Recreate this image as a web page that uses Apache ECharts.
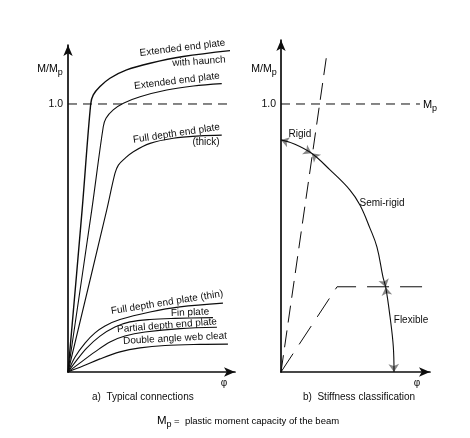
<!DOCTYPE html>
<html><head><meta charset="utf-8">
<script src="https://cdn.jsdelivr.net/npm/echarts@6/dist/echarts.min.js"></script>
<style>html,body{margin:0;padding:0;background:#fff}#c{width:470px;height:438px}</style>
</head><body><div id="c"></div>
<script>
// ---- data (phi in arbitrary rotation units, M/Mp) ----
const haunch     = [[0,0],[0.82,0.604],[1.32,1.0],[1.47,1.034],[1.86,1.065],[2.44,1.096],[3.41,1.127],[4.77,1.152],[6.70,1.177],[9.42,1.199]];
const extended   = [[0,0],[1.38,0.604],[2.05,0.915],[2.21,0.947],[2.63,0.978],[3.22,1.003],[4.19,1.027],[5.74,1.052],[7.29,1.067],[8.94,1.076]];
const fullThick  = [[0,0],[2.25,0.604],[2.73,0.741],[2.93,0.772],[3.31,0.797],[3.80,0.822],[4.77,0.853],[6.12,0.872],[7.67,0.881],[8.94,0.884]];
const fullThin   = [[0,0],[0.41,0.056],[0.99,0.108],[1.57,0.146],[2.15,0.172],[3.02,0.196],[4.77,0.224],[6.51,0.243],[9.01,0.257]];
const finPlate   = [[0,0],[0.52,0.045],[1.10,0.090],[1.86,0.134],[2.73,0.168],[3.60,0.187],[4.77,0.196],[6.22,0.200],[8.43,0.203]];
const partial    = [[0,0],[0.70,0.034],[1.57,0.075],[2.44,0.112],[3.31,0.134],[4.48,0.149],[6.51,0.162],[8.66,0.167]];
const cleat      = [[0,0],[0.87,0.022],[1.86,0.049],[3.02,0.075],[4.19,0.090],[5.64,0.099],[7.67,0.103],[9.30,0.104]];
const mpLineL    = [[0,1],[9.42,1]];

const mpLineR    = [[0,1],[8.08,1]];
const rigidLimit = [[0,0],[2.657,1.183]];
const flexLimit  = [[0,0],[3.26,0.318],[8.256,0.318]];
const arc        = [[0,0.866],[0.81,0.85],[1.78,0.816],[2.85,0.754],[4.01,0.679],[4.59,0.623],[5.17,0.537],[5.58,0.466],[5.93,0.354],[6.09,0.316],[6.34,0.206],[6.53,0.094],[6.57,0]];
const zoneBreaks = [0, 2, 9, 12]; // indices in arc: Rigid | Semi-rigid | Flexible
const yTickLabels = {1: '1.0'};

// ---- build ----
const FONT = "'Liberation Sans', Arial, Helvetica, sans-serif";
const INK = '#0d0d0d';
const chart = echarts.init(document.getElementById('c'), null, {renderer: 'canvas'});

function axisX(gi, max) {
  return {type:'value', gridIndex: gi, min: 0, max: max,
    axisLine:{show:true, onZero:false, symbol:['none','arrow'], symbolSize:[7,11], lineStyle:{color:INK, width:1.7}},
    axisTick:{show:false}, axisLabel:{show:false}, splitLine:{show:false}};
}
function axisY(gi, max) {
  return {type:'value', gridIndex: gi, min: 0, max: max, interval: 1,
    axisLine:{show:true, onZero:false, symbol:['none','arrow'], symbolSize:[7,11], lineStyle:{color:INK, width:1.7}},
    axisTick:{show:false}, splitLine:{show:false},
    axisLabel:{show:true, margin:5, fontFamily:FONT, fontSize:10.5, color:INK,
      formatter: v => yTickLabels[v] || ''}};
}
function curve(data, gi, width, dash, smooth) {
  return {type:'line', xAxisIndex:gi, yAxisIndex:gi, data:data, showSymbol:false, symbol:'none',
    smooth: smooth || 0, silent:true, animation:false,
    lineStyle:{color:INK, width:width, type: dash || 'solid'}};
}
const arrowItems = [];
for (let z = 0; z < zoneBreaks.length - 1; z++) {
  const s = zoneBreaks[z], e = zoneBreaks[z+1];
  arrowItems.push({coords:[arc[s+1], arc[s]]});
  arrowItems.push({coords:[arc[e-1], arc[e]]});
}

const sub = (main, s, f1, f2) => ({
  text: '{a|' + main + '}{s|' + s + '}',
  rich: {a:{fontFamily:FONT, fontSize:f1, color:INK},
         s:{fontFamily:FONT, fontSize:f2, color:INK, padding:[8,0,0,0]}}
});
function txt(x, y, text, deg, size, extra) {
  return Object.assign({type:'text', x:x, y:y, rotation:(deg||0)*Math.PI/180, silent:true,
    style:{text:text, fontFamily:FONT, fontSize:size||10, fill:INK, align:'center', verticalAlign:'middle'}}, extra||{});
}

chart.setOption({
  animation:false,
  backgroundColor:'#fff',
  grid:[{left:68, top:45, width:167, height:327},
        {left:281, top:40, width:149, height:332}],
  xAxis:[axisX(0, 9.71), axisX(1, 8.663)],
  yAxis:[axisY(0, 1.2201), axisY(1, 1.2388)],
  series:[
    curve(mpLineL, 0, 1, [9,6]),
    curve(haunch, 0, 1.4, null, 0.35),
    curve(extended, 0, 1.1, null, 0.35),
    curve(fullThick, 0, 1.1, null, 0.35),
    curve(fullThin, 0, 1.1, null, 0.35),
    curve(finPlate, 0, 1.1, null, 0.35),
    curve(partial, 0, 1.1, null, 0.35),
    curve(cleat, 0, 1.1, null, 0.35),
    curve(mpLineR, 1, 1, [9,6]),
    curve(rigidLimit, 1, 1, [17,8]),
    curve(flexLimit, 1, 1, [22,11]),
    curve(arc, 1, 1.1, null, 0.4),
    {type:'lines', coordinateSystem:'cartesian2d', xAxisIndex:1, yAxisIndex:1, silent:true,
     symbol:['none','arrow'], symbolSize:[6,8],
     lineStyle:{color:INK, width:0}, data: arrowItems}
  ],
  graphic:[
    {type:'text', x:50, y:69, silent:true, style:Object.assign({align:'center', verticalAlign:'middle'}, sub('M/M','p',10.5,9))},
    {type:'text', x:264, y:69, silent:true, style:Object.assign({align:'center', verticalAlign:'middle'}, sub('M/M','p',10.5,9))},
    {type:'text', x:430, y:105, silent:true, style:Object.assign({align:'center', verticalAlign:'middle'}, sub('M','p',11,9))},
    txt(182.5, 48, 'Extended end plate', 7, 10),
    txt(199, 61.5, 'with haunch', 4, 10),
    txt(177, 81, 'Extended end plate', 7, 10),
    txt(176.5, 133.5, 'Full depth end plate', 8.5, 10),
    txt(206, 142, '(thick)', 0, 10),
    txt(167, 302.5, 'Full depth end plate (thin)', 9, 10),
    txt(190, 312.5, 'Fin plate', 2, 10),
    txt(167, 325.5, 'Partial depth end plate', 4.5, 10),
    txt(175, 338.5, 'Double angle web cleat', 3, 10),
    txt(300, 134, 'Rigid', 0, 10),
    txt(382, 203, 'Semi-rigid', 0, 10),
    txt(411, 320, 'Flexible', 0, 10),
    txt(224, 383, 'φ', 0, 10),
    txt(417, 383, 'φ', 0, 10),
    {type:'text', x:92, y:397, silent:true, style:{text:'a)  Typical connections', fontFamily:FONT, fontSize:10, fill:INK, verticalAlign:'middle'}},
    {type:'text', x:303, y:397, silent:true, style:{text:'b)  Stiffness classification', fontFamily:FONT, fontSize:10, fill:INK, verticalAlign:'middle'}},
    {type:'text', x:248, y:421, silent:true, style:{
      text:'{a|M}{s|p}{b| =  plastic moment capacity of the beam}', align:'center', verticalAlign:'middle',
      rich:{a:{fontFamily:FONT, fontSize:11.5, color:INK}, s:{fontFamily:FONT, fontSize:9, color:INK, padding:[8,0,0,0]},
            b:{fontFamily:FONT, fontSize:9.5, color:INK}}}}
  ]
});
</script></body></html>
